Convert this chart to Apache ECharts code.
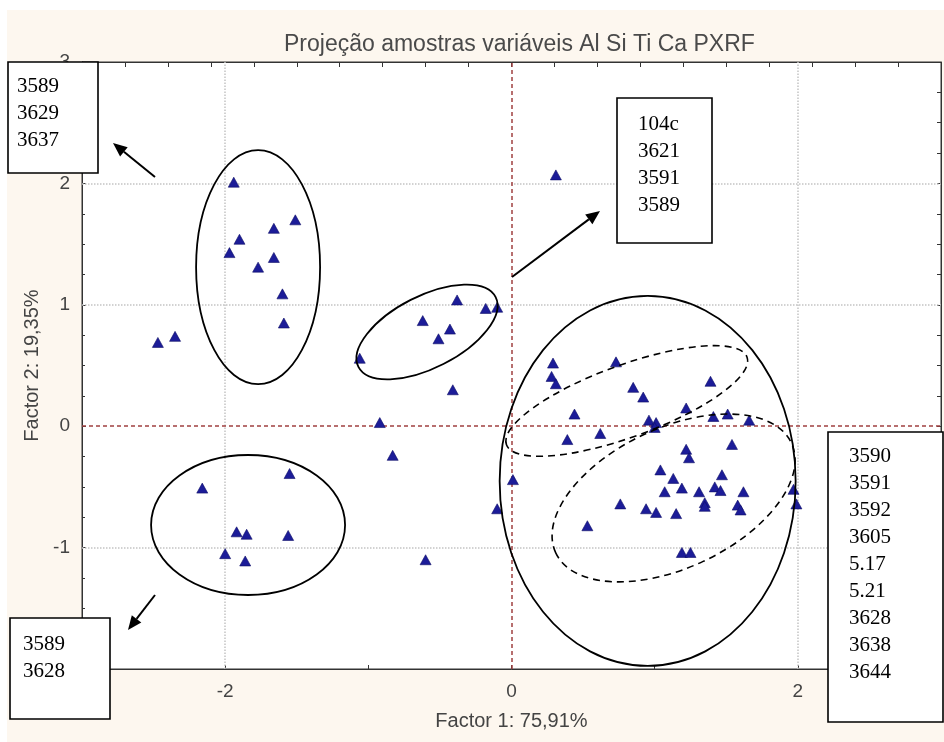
<!DOCTYPE html>
<html><head><meta charset="utf-8">
<script src="https://cdn.jsdelivr.net/npm/echarts@6.0.0/dist/echarts.min.js"></script>
<style>html,body{margin:0;padding:0;background:#fff}#c{width:944px;height:742px}</style>
</head><body><div id="c"></div>
<script>
// ---- data ----
const factor1 = [
 -1.94,-1.51,-1.66,-1.90,-1.97,-1.66,-1.77,-1.60,-1.59,-2.35,-2.47,
 -0.38,-0.18,-0.10,-0.62,-0.43,-0.51,-1.06,-0.41,-0.92,-0.83,
 -1.55,-2.16,-1.92,-1.85,-1.56,-2.00,-1.86,
 -0.60,-0.10,0.01,0.31,
 0.29,0.28,0.31,0.73,0.85,0.92,1.39,0.44,1.22,1.41,1.51,1.66,0.96,1.01,1.00,
 0.39,0.62,1.22,1.24,1.54,1.04,1.13,1.47,1.42,1.46,1.07,1.19,1.31,1.62,
 1.35,1.35,1.58,1.60,0.76,0.94,1.01,1.15,0.53,1.19,1.25,1.97,1.99
];
const factor2 = [
 2.01,1.70,1.63,1.54,1.43,1.39,1.31,1.09,0.85,0.74,0.69,
 1.04,0.97,0.98,0.87,0.80,0.72,0.56,0.30,0.03,-0.24,
 -0.39,-0.51,-0.87,-0.89,-0.90,-1.05,-1.11,
 -1.10,-0.68,-0.44,2.07,
 0.52,0.41,0.35,0.53,0.32,0.24,0.37,0.10,0.15,0.08,0.10,0.05,0.05,0.03,-0.01,
 -0.11,-0.06,-0.19,-0.26,-0.15,-0.36,-0.43,-0.40,-0.50,-0.53,-0.54,-0.51,-0.54,-0.54,
 -0.63,-0.66,-0.65,-0.69,-0.64,-0.68,-0.71,-0.72,-0.82,-1.04,-1.04,-0.52,-0.64
];
const xGridLines = [-2, 2];
const yGridLines = [-1, 1, 2];
const zeroLines = [0];
const titleText = 'Projeção amostras variáveis Al Si Ti Ca PXRF';
const xName = 'Factor 1: 75,91%';
const yName = 'Factor 2: 19,35%';
const xLabelShown = [-2, 0, 2];

const boxTexts = [
 ['3589','3629','3637'],
 ['104c','3621','3591','3589'],
 ['3590','3591','3592','3605','5.17','5.21','3628','3638','3644'],
 ['3589','3628']
];

const points = factor1.map((x, i) => [x, factor2[i]]);

const chart = echarts.init(document.getElementById('c'), null, {renderer: 'canvas'});
const axisTextColor = '#444';
const font = 'Liberation Sans, Arial, sans-serif';

const gridMarkLines = [];
xGridLines.forEach(v => gridMarkLines.push({xAxis: v, lineStyle: {color: '#c4c4c4', type: 'dotted', width: 1.5}}));
yGridLines.forEach(v => gridMarkLines.push({yAxis: v, lineStyle: {color: '#c4c4c4', type: 'dotted', width: 1.5}}));
zeroLines.forEach(v => {
  gridMarkLines.push({xAxis: v, lineStyle: {color: '#a04040', type: [4, 3], width: 1.5}});
  gridMarkLines.push({yAxis: v, lineStyle: {color: '#a04040', type: [4, 3], width: 1.5}});
});

chart.setOption({
  animation: false,
  backgroundColor: '#fdf7ef',
  title: {
    text: titleText, left: 279, top: 28,
    textStyle: {fontFamily: font, fontSize: 23, fontWeight: 'normal', color: '#4a4a4a'}
  },
  grid: {left: 82, top: 62, right: 1, bottom: 73, show: true, backgroundColor: '#ffffff', borderColor: '#333', borderWidth: 1},
  xAxis: [{
    type: 'value', min: -3, max: 3, interval: 1, position: 'bottom',
    name: xName, nameLocation: 'middle', nameGap: 42,
    nameTextStyle: {fontFamily: font, fontSize: 20, color: axisTextColor},
    axisLine: {show: true, onZero: false, lineStyle: {color: '#333'}},
    axisTick: {show: true, inside: true, length: 4, lineStyle: {color: '#333'}},
    axisLabel: {fontFamily: font, fontSize: 19, color: axisTextColor, margin: 13,
      formatter: v => xLabelShown.includes(Math.round(v*100)/100) ? String(v) : ''},
    splitLine: {show: false}
  }, {
    type: 'value', min: -3, max: 3, interval: 0.3, position: 'top',
    axisLine: {show: true, onZero: false, lineStyle: {color: '#333'}},
    axisTick: {show: true, inside: true, length: 5, lineStyle: {color: '#333'}},
    axisLabel: {show: false}, splitLine: {show: false}
  }],
  yAxis: [{
    type: 'value', min: -2, max: 3, interval: 1, position: 'left',
    name: yName, nameLocation: 'middle', nameGap: 40, nameRotate: 90,
    nameTextStyle: {fontFamily: font, fontSize: 20, color: axisTextColor},
    axisLine: {show: true, onZero: false, lineStyle: {color: '#333'}},
    axisTick: {show: true, inside: true, length: 4, lineStyle: {color: '#333'}},
    minorTick: {show: true, splitNumber: 4, length: 3, lineStyle: {color: '#333'}},
    axisLabel: {fontFamily: font, fontSize: 19, color: axisTextColor, margin: 12},
    splitLine: {show: false}
  }, {
    type: 'value', min: -2, max: 3, interval: 0.25, position: 'right',
    axisLine: {show: true, onZero: false, lineStyle: {color: '#333'}},
    axisTick: {show: true, inside: true, length: 4, lineStyle: {color: '#333'}},
    axisLabel: {show: false}, splitLine: {show: false}
  }],
  series: [{
    type: 'scatter', xAxisIndex: 0, yAxisIndex: 0,
    data: points, symbol: 'triangle', symbolSize: [11, 10],
    itemStyle: {color: '#1c1c98', opacity: 1, borderColor: '#0e0e66', borderWidth: 0.6},
    markLine: {silent: true, symbol: 'none', label: {show: false}, data: gridMarkLines},
    z: 5
  }]
});

// ---- annotations (centres in data coordinates, converted by the chart) ----
const ellipses = [
  {c: [-1.77, 1.31], rx: 62, ry: 117, rot: 0, dash: false},
  {c: [-0.59, 0.776], rx: 77, ry: 36, rot: 27, dash: false},
  {c: [-1.84, -0.814], rx: 97, ry: 70, rot: 0, dash: false},
  {c: [0.951, -0.451], rx: 148, ry: 185, rot: 0, dash: false},
  {c: [0.805, 0.208], rx: 128, ry: 36, rot: 20, dash: true},
  {c: [1.132, -0.591], rx: 130, ry: 70, rot: 25, dash: true}
];
const boxes = [
  {x: 8, y: 62, w: 90, h: 111, tx: 17, ty: 73},
  {x: 617, y: 98, w: 95, h: 145, tx: 638, ty: 111},
  {x: 828, y: 432, w: 115, h: 290, tx: 849, ty: 443},
  {x: 10, y: 618, w: 100, h: 101, tx: 23, ty: 631}
];
const arrows = [
  {from: [155, 177], to: [113, 143]},
  {from: [512, 277], to: [600, 211]},
  {from: [155, 595], to: [128, 630]}
];

function arrowGraphic(a) {
  const [x1, y1] = a.from, [x2, y2] = a.to;
  const ang = Math.atan2(y2 - y1, x2 - x1);
  const L = 14, W = 6;
  const bx = x2 - L * Math.cos(ang), by = y2 - L * Math.sin(ang);
  const px = -Math.sin(ang) * W, py = Math.cos(ang) * W;
  return [
    {type: 'line', shape: {x1, y1, x2: bx, y2: by}, style: {stroke: '#000', lineWidth: 2}, z: 20},
    {type: 'polygon', shape: {points: [[x2, y2], [bx + px, by + py], [bx - px, by - py]]}, style: {fill: '#000'}, z: 20}
  ];
}

const g = [];
g.push({type: 'rect', shape: {x: 0, y: 0, width: 944, height: 10}, style: {fill: '#fff'}, z: -1, silent: true});
g.push({type: 'rect', shape: {x: 0, y: 0, width: 7, height: 742}, style: {fill: '#fff'}, z: -1, silent: true});
ellipses.forEach(e => {
  const p = chart.convertToPixel({xAxisIndex: 0, yAxisIndex: 0}, e.c);
  g.push({type: 'ellipse', x: p[0], y: p[1], rotation: e.rot * Math.PI / 180,
    shape: {cx: 0, cy: 0, rx: e.rx, ry: e.ry},
    style: {fill: 'none', stroke: '#000', lineWidth: e.dash ? 1.6 : 1.8, lineDash: e.dash ? [7, 5] : null}, z: 15});
});
arrows.forEach(a => arrowGraphic(a).forEach(o => g.push(o)));
boxes.forEach((b, i) => {
  g.push({type: 'rect', shape: {x: b.x, y: b.y, width: b.w, height: b.h}, style: {fill: '#fff', stroke: '#000', lineWidth: 1.6}, z: 30});
  g.push({type: 'text', x: b.tx, y: b.ty, style: {text: boxTexts[i].join('\n'), font: '21px "Liberation Serif", "Times New Roman", serif', lineHeight: 27, fill: '#000'}, z: 31});
});
chart.setOption({graphic: g});
</script>
</body></html>
